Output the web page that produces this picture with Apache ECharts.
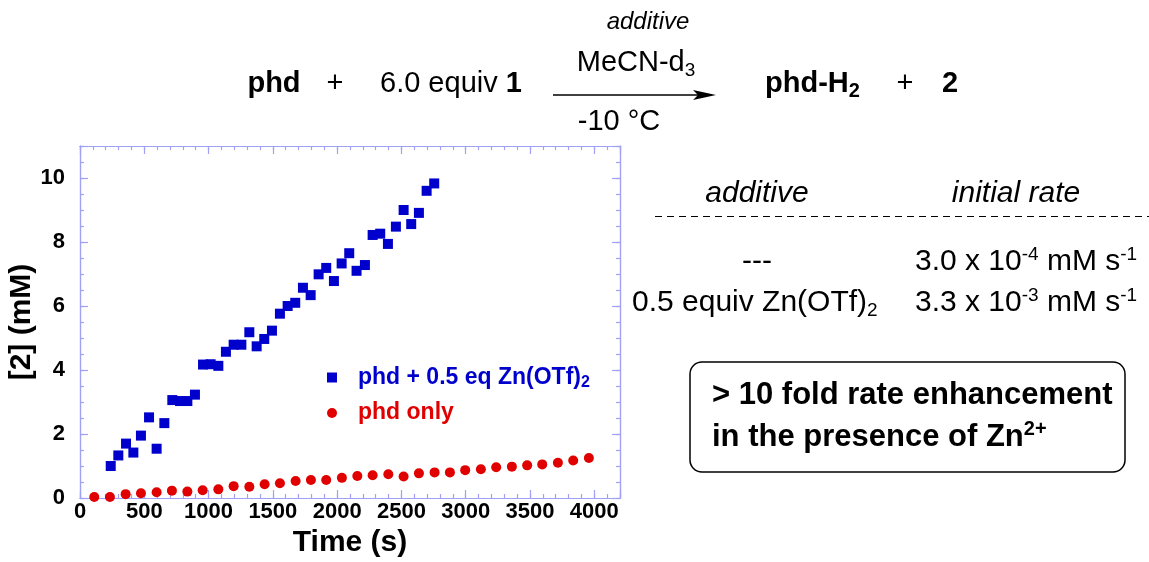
<!DOCTYPE html>
<html>
<head>
<meta charset="utf-8">
<script src="https://cdn.jsdelivr.net/npm/echarts@6/dist/echarts.min.js"></script>
<style>
  html, body { margin: 0; padding: 0; background: #fff; }
  #chart { width: 1149px; height: 562px; }
</style>
</head>
<body>
<div id="chart"></div>
<script>
// phd + 0.5 eq Zn(OTf)2 (blue squares)
var blueTime = [239, 298, 358, 415, 474, 537, 596, 656, 718, 778, 835, 894, 957, 1016, 1076, 1135, 1195, 1255, 1317, 1374, 1433, 1493, 1555, 1615, 1674, 1734, 1794, 1856, 1915, 1975, 2035, 2094, 2151, 2216, 2276, 2335, 2395, 2457, 2517, 2576, 2636, 2696, 2755];
var blueConc = [1.0, 1.33, 1.70, 1.42, 1.95, 2.52, 1.54, 2.34, 3.06, 3.03, 3.03, 3.23, 4.17, 4.18, 4.13, 4.57, 4.79, 4.79, 5.18, 4.74, 4.97, 5.23, 5.76, 6.0, 6.10, 6.57, 6.34, 6.99, 7.19, 6.78, 7.33, 7.65, 7.1, 7.28, 8.22, 8.26, 7.94, 8.48, 9.0, 8.56, 8.91, 9.60, 9.83];
// phd only (red circles)
var redTime = [111, 233, 355, 474, 596, 715, 835, 954, 1076, 1195, 1317, 1436, 1555, 1677, 1796, 1915, 2037, 2157, 2276, 2398, 2517, 2636, 2758, 2877, 2996, 3118, 3237, 3359, 3478, 3595, 3717, 3836, 3958];
var redConc = [0.03, 0.03, 0.12, 0.15, 0.18, 0.23, 0.20, 0.24, 0.27, 0.37, 0.35, 0.43, 0.46, 0.53, 0.56, 0.56, 0.63, 0.69, 0.71, 0.74, 0.67, 0.77, 0.80, 0.80, 0.87, 0.90, 0.96, 0.98, 1.02, 1.05, 1.10, 1.17, 1.25];

var seriesNames = ['phd + 0.5 eq Zn(OTf)2', 'phd only'];
var xRange = [0, 4200];
var yRange = [0, 11];

var FONT = 'Liberation Sans, Arial, Helvetica, sans-serif';
var axisColor = '#a0a0f4';
var blue = '#0000cc';
var red = '#e00000';

function pairs(xs, ys) {
  return xs.map(function (x, i) { return [x, ys[i]]; });
}

// plot frame: 4 grids on the same rect so each side gets long (major) and short (minor) ticks
var plotRect = { left: 80, right: 529, top: 146, bottom: 64, containLabel: false, outerBoundsMode: 'none' };
var grids = [0, 1, 2, 3].map(function () { return Object.assign({}, plotRect); });

function frameAxis(grid, pos, range, interval, len, extra) {
  var a = {
    type: 'value',
    gridIndex: grid,
    position: pos,
    min: range[0],
    max: range[1],
    interval: interval,
    axisLine: { show: true, onZero: false, lineStyle: { color: axisColor, width: 1.2 } },
    axisTick: { show: true, inside: true, length: len, lineStyle: { color: axisColor, width: 1.2 } },
    axisLabel: { show: false },
    splitLine: { show: false },
  };
  return Object.assign(a, extra || {});
}

var labelStyle = { show: true, color: '#000', fontFamily: FONT, fontWeight: 'bold', fontSize: 22 };
var nameStyle = { color: '#000', fontFamily: FONT, fontWeight: 'bold', fontSize: 30 };

function txt(x, y, text, align, rich) {
  return {
    type: 'text',
    x: x,
    y: y,
    style: {
      text: text,
      align: align,
      verticalAlign: 'middle',
      fill: '#000',
      font: '30px ' + FONT,
      rich: rich,
    },
  };
}

var schemeRich = {
  n: { fontSize: 29, fontFamily: FONT, lineHeight: 34 },
  b: { fontSize: 29, fontFamily: FONT, fontWeight: 'bold', lineHeight: 34 },
  i: { fontSize: 24, fontFamily: FONT, fontStyle: 'italic', lineHeight: 34 },
  s: { fontSize: 19, fontFamily: FONT, lineHeight: 16, verticalAlign: 'bottom' },
  bs: { fontSize: 20, fontFamily: FONT, fontWeight: 'bold', lineHeight: 16, verticalAlign: 'bottom' },
};
var tableRich = {
  n: { fontSize: 30, fontFamily: FONT, lineHeight: 34 },
  i: { fontSize: 30, fontFamily: FONT, fontStyle: 'italic', lineHeight: 34 },
  s: { fontSize: 19, fontFamily: FONT, lineHeight: 16, verticalAlign: 'bottom' },
  u: { fontSize: 19, fontFamily: FONT, lineHeight: 20, verticalAlign: 'top' },
};
var boxRich = {
  b: { fontSize: 31, fontFamily: FONT, fontWeight: 'bold', lineHeight: 36 },
  u: { fontSize: 20, fontFamily: FONT, fontWeight: 'bold', lineHeight: 20, verticalAlign: 'top' },
};

var dom = document.getElementById('chart');
var myChart = echarts.init(dom, null, { renderer: 'canvas' });

var option = {
  backgroundColor: '#fff',
  animation: false,
  grid: grids,
  xAxis: [
    frameAxis(0, 'bottom', xRange, 500, 8, {
      axisLabel: Object.assign({}, labelStyle, {
        margin: 3,
        formatter: function (v) { return v <= 4000 ? String(v) : ''; },
      }),
      name: 'Time (s)',
      nameLocation: 'middle',
      nameGap: 29,
      nameTextStyle: nameStyle,
    }),
    frameAxis(1, 'bottom', xRange, 100, 4),
    frameAxis(2, 'top', xRange, 500, 8),
    frameAxis(3, 'top', xRange, 100, 4),
  ],
  yAxis: [
    frameAxis(0, 'left', yRange, 2, 8, {
      axisLabel: Object.assign({}, labelStyle, {
        margin: 15,
        formatter: function (v) { return v % 2 === 0 ? String(v) : ''; },
      }),
      name: '[2] (mM)',
      nameLocation: 'middle',
      nameGap: 37,
      nameTextStyle: nameStyle,
    }),
    frameAxis(1, 'left', yRange, 0.5, 4),
    frameAxis(2, 'right', yRange, 2, 8),
    frameAxis(3, 'right', yRange, 0.5, 4),
  ],
  legend: {
    left: 322,
    top: 361,
    orient: 'vertical',
    itemGap: 11,
    itemWidth: 10,
    itemHeight: 10,
    data: [
      { name: seriesNames[0], icon: 'rect' },
      { name: seriesNames[1], icon: 'circle' },
    ],
    formatter: function (name) {
      if (name === seriesNames[0]) return '{tb|phd + 0.5 eq Zn(OTf)}{sb|2}';
      return '{tr|' + name + '}';
    },
    textStyle: {
      fontFamily: FONT,
      fontWeight: 'bold',
      fontSize: 23,
      rich: {
        tb: { color: blue, fontFamily: FONT, fontWeight: 'bold', fontSize: 23, lineHeight: 26, padding: [0, 0, 0, 16] },
        sb: { color: blue, fontFamily: FONT, fontWeight: 'bold', fontSize: 16, lineHeight: 10, verticalAlign: 'bottom' },
        tr: { color: red, fontFamily: FONT, fontWeight: 'bold', fontSize: 23, lineHeight: 26, padding: [0, 0, 0, 16] },
      },
    },
  },
  series: [
    {
      name: seriesNames[0],
      type: 'scatter',
      xAxisIndex: 0,
      yAxisIndex: 0,
      symbol: 'rect',
      symbolSize: 10,
      itemStyle: { color: blue, opacity: 1 },
      data: pairs(blueTime, blueConc),
    },
    {
      name: seriesNames[1],
      type: 'scatter',
      xAxisIndex: 0,
      yAxisIndex: 0,
      symbol: 'circle',
      symbolSize: 10,
      itemStyle: { color: red, opacity: 1 },
      data: pairs(redTime, redConc),
    },
  ],
  graphic: [
    // reaction scheme
    txt(274, 84, '{b|phd}', 'center', schemeRich),
    txt(335, 84, '{n|+}', 'center', schemeRich),
    txt(380, 84, '{n|6.0 equiv }{b|1}', 'left', schemeRich),
    txt(648, 22, '{i|additive}', 'center', schemeRich),
    txt(636, 63, '{n|MeCN-d}{s|3}', 'center', schemeRich),
    txt(619, 122, '{n|-10 °C}', 'center', schemeRich),
    txt(765, 84, '{b|phd-H}{bs|2}', 'left', schemeRich),
    txt(905, 84, '{n|+}', 'center', schemeRich),
    txt(950, 84, '{b|2}', 'center', schemeRich),
    {
      type: 'line',
      shape: { x1: 553, y1: 95, x2: 704, y2: 95 },
      style: { stroke: '#000', lineWidth: 1.5 },
    },
    {
      type: 'polygon',
      shape: { points: [[693, 90], [716, 95], [693, 100], [698, 95]] },
      style: { fill: '#000' },
    },
    // rate table
    txt(757, 194, '{i|additive}', 'center', tableRich),
    txt(1016, 194, '{i|initial rate}', 'center', tableRich),
    {
      type: 'line',
      shape: { x1: 655, y1: 216.5, x2: 1149, y2: 216.5 },
      style: { stroke: '#000', lineWidth: 1.2, lineDash: [7, 5] },
    },
    txt(757, 262, '{n|---}', 'center', tableRich),
    txt(915, 262, '{n|3.0 x 10}{u|-4}{n| mM s}{u|-1}', 'left', tableRich),
    txt(632, 303, '{n|0.5 equiv Zn(OTf)}{s|2}', 'left', tableRich),
    txt(915, 303, '{n|3.3 x 10}{u|-3}{n| mM s}{u|-1}', 'left', tableRich),
    // summary box
    {
      type: 'rect',
      shape: { x: 690, y: 362, width: 435, height: 110, r: 12 },
      style: { fill: 'none', stroke: '#000', lineWidth: 1.5 },
    },
    txt(712, 395, '{b|> 10 fold rate enhancement}', 'left', boxRich),
    txt(712, 437, '{b|in the presence of Zn}{u|2+}', 'left', boxRich),
  ],
};

if (option && typeof option === 'object') {
  myChart.setOption(option);
}

window.addEventListener('resize', myChart.resize);
</script>
</body>
</html>
